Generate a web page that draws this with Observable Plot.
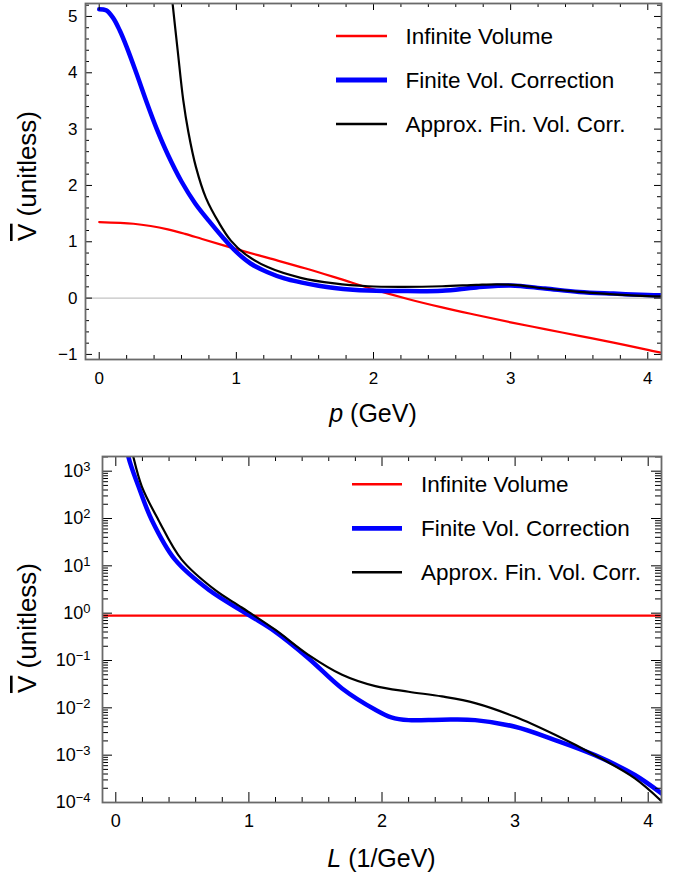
<!DOCTYPE html>
<html><head><meta charset="utf-8">
<script src="https://cdn.jsdelivr.net/npm/d3@7"></script>
<script src="https://cdn.jsdelivr.net/npm/@observablehq/plot@0.6"></script>
<style>
body{margin:0;background:#fff;}
#chart{width:693px;}
#chart svg{display:block;}
</style></head><body><div id="chart"></div>
<script>
// ---------- data ----------
const seriesNames = ["Infinite Volume", "Finite Vol. Correction", "Approx. Fin. Vol. Corr."];
const seriesColors = ["#ff0000", "#0000ff", "#000000"];
const seriesWidths = [2.2, 4.5, 2.2];

// top panel: V vs p (GeV)
const pInf = [0, 0.25, 0.375, 0.5, 0.625, 0.75, 1.0, 1.25, 1.5, 1.75, 2.0, 2.25, 2.5, 2.75, 3.0, 3.25, 3.5, 3.75, 4.0, 4.1];
const vInf = [1.35, 1.32, 1.28, 1.22, 1.14, 1.05, 0.87, 0.70, 0.53, 0.345, 0.155, -0.015, -0.165, -0.30, -0.43, -0.55, -0.67, -0.79, -0.92, -0.97];

const pFin = [0, 0.05, 0.1, 0.15, 0.2, 0.27, 0.35, 0.42, 0.5, 0.6, 0.7, 0.8, 0.9, 1.0, 1.106, 1.228, 1.35, 1.47, 1.6, 1.715, 1.85, 1.96, 2.2, 2.5, 2.75, 3.0, 3.25, 3.5, 3.75, 4.0, 4.1];
const vFin = [5.13, 5.11, 4.98, 4.75, 4.46, 4.0, 3.45, 3.0, 2.55, 2.07, 1.68, 1.37, 1.08, 0.82, 0.61, 0.46, 0.35, 0.28, 0.22, 0.18, 0.15, 0.137, 0.125, 0.13, 0.19, 0.225, 0.17, 0.11, 0.08, 0.055, 0.05];

const pApx = [0.5, 0.535, 0.572, 0.613, 0.65, 0.705, 0.778, 0.875, 0.96, 1.06, 1.228, 1.47, 1.715, 1.96, 2.2, 2.5, 2.75, 2.9, 3.05, 3.25, 3.5, 3.75, 4.0, 4.1];
const vApx = [6.1, 5.23, 4.40, 3.51, 2.95, 2.33, 1.78, 1.33, 1.02, 0.79, 0.55, 0.36, 0.26, 0.21, 0.20, 0.21, 0.235, 0.245, 0.23, 0.17, 0.11, 0.065, 0.035, 0.03];

// bottom panel: V vs L (1/GeV), log scale
const infLevelL = 0.89;
const LFin = [0.07, 0.095, 0.17, 0.27, 0.445, 0.70, 1.0, 1.197, 1.447, 1.70, 1.95, 2.07, 2.2, 2.45, 2.7, 3.0, 3.3, 3.6, 3.9, 4.1];
const vFinL = [5623, 1995, 479, 93.3, 13.5, 3.09, 0.912, 0.407, 0.112, 0.0257, 0.00912, 0.00631, 0.0055, 0.00562, 0.0055, 0.00398, 0.00209, 0.001, 0.00038, 0.000155];

const LApx = [0.11, 0.131, 0.195, 0.32, 0.495, 0.745, 0.946, 1.197, 1.447, 1.70, 1.95, 2.2, 2.45, 2.7, 3.0, 3.3, 3.6, 3.9, 4.1];
const vApxL = [3981, 2042, 479, 93.3, 13.5, 3.09, 1.32, 0.447, 0.132, 0.0501, 0.0288, 0.0219, 0.0174, 0.0126, 0.00646, 0.00269, 0.001, 0.000324, 0.000107];

// ticks
const xMajor = [0, 1, 2, 3, 4];
const yMajorTop = [-1, 0, 1, 2, 3, 4, 5];
const yMajorLog = [1e-4, 1e-3, 1e-2, 1e-1, 1, 10, 100, 1000];

const xLabelTop = ["p", " (GeV)"];
const xLabelBot = ["L", " (1/GeV)"];
const yLabel = ["V", " (unitless)"];

// ---------- helpers ----------
const FONT = "'Liberation Sans', Arial, Helvetica, sans-serif";
const rows = (xs, ys) => xs.map((x, i) => ({x, y: ys[i]}));
function linMinor(lo, hi, step) {
  const out = [];
  for (let i = Math.ceil(lo / step - 1e-9); i * step <= hi + 1e-9; i++) {
    const v = +(i * step).toFixed(6);
    if (Math.abs(v - Math.round(v)) > 1e-6) out.push(v);
  }
  return out;
}
function logMinor(lo, hi) {
  const out = [];
  for (let e = Math.floor(Math.log10(lo)); e <= Math.ceil(Math.log10(hi)); e++)
    for (let m = 2; m <= 9; m++) { const v = m * Math.pow(10, e); if (v >= lo && v <= hi) out.push(v); }
  return out;
}
// frame ticks drawn as short rules; tick length (px) converted to data units
function xTicks(vals, len, yDom, plotH, isLog) {
  let b1, t1;
  if (isLog) {
    const dec = Math.log10(yDom[1] / yDom[0]) / plotH;
    b1 = yDom[0] * Math.pow(10, len * dec); t1 = yDom[1] / Math.pow(10, len * dec);
  } else {
    const u = (yDom[1] - yDom[0]) / plotH;
    b1 = yDom[0] + len * u; t1 = yDom[1] - len * u;
  }
  return [
    Plot.ruleX(vals, {x: d => d, y1: yDom[0], y2: b1, stroke: "#000", strokeWidth: 1}),
    Plot.ruleX(vals, {x: d => d, y1: t1, y2: yDom[1], stroke: "#000", strokeWidth: 1})
  ];
}
function yTicks(vals, len, xDom, plotW) {
  const u = (xDom[1] - xDom[0]) / plotW;
  return [
    Plot.ruleY(vals, {y: d => d, x1: xDom[0], x2: xDom[0] + len * u, stroke: "#000", strokeWidth: 1}),
    Plot.ruleY(vals, {y: d => d, x1: xDom[1] - len * u, x2: xDom[1], stroke: "#000", strokeWidth: 1})
  ];
}
const fmtMinus = d => d < 0 ? "\u2212" + Math.abs(d) : String(d);

function addLegend(svg, x1, x2, xt, ys) {
  const g = d3.select(svg).append("g");
  seriesNames.forEach((name, i) => {
    g.append("line").attr("x1", x1).attr("x2", x2).attr("y1", ys[i]).attr("y2", ys[i])
      .attr("stroke", seriesColors[i]).attr("stroke-width", seriesWidths[i] + 0.3);
    g.append("text").attr("x", xt).attr("y", ys[i]).attr("dy", "0.35em").attr("text-anchor", "start")
      .attr("font-size", "22.5px").attr("font-family", FONT).attr("fill", "#000").text(name);
  });
}
function addXLabel(svg, x, y, parts) {
  const t = d3.select(svg).append("text").attr("x", x).attr("y", y).attr("text-anchor", "middle")
    .attr("font-size", "25px").attr("font-family", FONT).attr("fill", "#000");
  t.append("tspan").attr("font-style", "italic").text(parts[0]);
  t.append("tspan").text(parts[1]);
}
function addYLabel(svg, x, y, parts) {
  const t = d3.select(svg).append("text").attr("transform", `translate(${x},${y}) rotate(-90)`)
    .attr("text-anchor", "middle").attr("font-size", "26px").attr("font-family", FONT).attr("fill", "#000");
  t.append("tspan").attr("style", "text-decoration: overline").text(parts[0]);
  t.append("tspan").text(parts[1]);
}

const W = 693;
const container = document.getElementById("chart");
const CURVE = "catmull-rom";

// ---------- top panel ----------
{
  const H = 430, mT = 3, mB = 71, mL = 85, mR = 32;
  const plotW = W - mL - mR, plotH = H - mT - mB;
  const xDom = [-0.1, 4.1], yDom = [-1.09, 5.23];
  const svg = Plot.plot({
    width: W, height: H, marginTop: mT, marginBottom: mB, marginLeft: mL, marginRight: mR,
    style: {fontFamily: FONT, fontSize: "17px", background: "#fff", color: "#000"},
    x: {domain: xDom, ticks: xMajor, tickSize: 0, tickPadding: 12, label: null, tickFormat: fmtMinus},
    y: {domain: yDom, ticks: yMajorTop, tickSize: 0, tickPadding: 8, label: null, tickFormat: fmtMinus},
    marks: [
      Plot.ruleY([0], {stroke: "#b4b4b4", strokeWidth: 1}),
      Plot.line(rows(pInf, vInf), {x: "x", y: "y", stroke: seriesColors[0], strokeWidth: seriesWidths[0], curve: CURVE, clip: true}),
      Plot.line(rows(pFin, vFin), {x: "x", y: "y", stroke: seriesColors[1], strokeWidth: seriesWidths[1], curve: CURVE, clip: true}),
      Plot.line(rows(pApx, vApx), {x: "x", y: "y", stroke: seriesColors[2], strokeWidth: seriesWidths[2], curve: CURVE, clip: true}),
      ...xTicks(xMajor, 7, yDom, plotH, false),
      ...xTicks(linMinor(xDom[0], xDom[1], 0.2), 4, yDom, plotH, false),
      ...yTicks(yMajorTop, 7, xDom, plotW),
      ...yTicks(linMinor(yDom[0], yDom[1], 0.2), 4, xDom, plotW),
      Plot.frame({stroke: "#6a6a6a", strokeWidth: 1.8})
    ]
  });
  addLegend(svg, 336, 387, 405.5, [36, 80, 124]);
  addXLabel(svg, 373, 422, xLabelTop);
  addYLabel(svg, 36, 176, yLabel);
  container.appendChild(svg);
}

// ---------- bottom panel ----------
{
  const H = 448, mT = 26, mB = 76, mL = 102, mR = 32;
  const plotW = W - mL - mR, plotH = H - mT - mB;
  const xDom = [-0.1, 4.1], yDom = [1e-4, 2042];
  const svg = Plot.plot({
    width: W, height: H, marginTop: mT, marginBottom: mB, marginLeft: mL, marginRight: mR,
    style: {fontFamily: FONT, fontSize: "18px", background: "#fff", color: "#000"},
    x: {domain: xDom, ticks: xMajor, tickSize: 0, tickPadding: 12, label: null, tickFormat: fmtMinus},
    y: {type: "log", domain: yDom, ticks: yMajorLog, tickSize: 0, tickPadding: 12, label: null,
        tickFormat: d => "10^" + Math.round(Math.log10(d))},
    marks: [
      Plot.ruleY([infLevelL], {stroke: seriesColors[0], strokeWidth: seriesWidths[0]}),
      Plot.line(rows(LFin, vFinL), {x: "x", y: "y", stroke: seriesColors[1], strokeWidth: seriesWidths[1], curve: CURVE, clip: true}),
      Plot.line(rows(LApx, vApxL), {x: "x", y: "y", stroke: seriesColors[2], strokeWidth: seriesWidths[2], curve: CURVE, clip: true}),
      ...xTicks(xMajor, 10, yDom, plotH, true),
      ...xTicks(linMinor(xDom[0], xDom[1], 0.2), 5, yDom, plotH, true),
      ...yTicks(yMajorLog, 10, xDom, plotW),
      ...yTicks(logMinor(yDom[0], yDom[1]), 6, xDom, plotW),
      Plot.frame({stroke: "#6a6a6a", strokeWidth: 1.8})
    ]
  });
  // superscript exponents on log tick labels
  svg.querySelectorAll("text").forEach(t => {
    const s = t.textContent;
    if (/^10\^/.test(s)) {
      const e = s.slice(3).replace("-", "\u2212");
      t.textContent = "";
      const ns = "http://www.w3.org/2000/svg";
      const a = document.createElementNS(ns, "tspan"); a.textContent = "10"; t.appendChild(a);
      const b = document.createElementNS(ns, "tspan"); b.textContent = e;
      b.setAttribute("dy", "-0.45em"); b.setAttribute("font-size", "0.72em"); t.appendChild(b);
    }
  });
  addLegend(svg, 352, 402, 421, [54.3, 98.3, 142.3]);
  addXLabel(svg, 381.5, 437, xLabelBot);
  addYLabel(svg, 36, 198, yLabel);
  container.appendChild(svg);
}
</script></body></html>
